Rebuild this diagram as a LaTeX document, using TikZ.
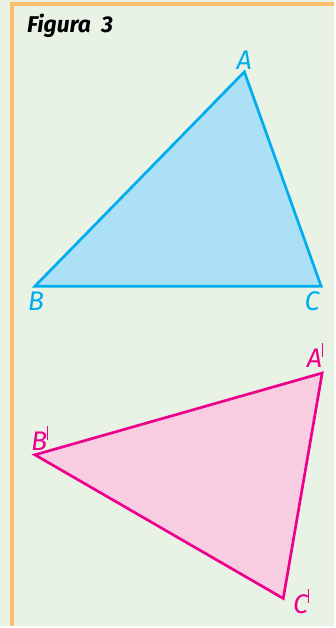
\documentclass[tikz,border=0pt]{standalone}
\usepackage{fontspec}
\setmainfont{Fira Sans}
\usepackage{xcolor}
\usetikzlibrary{positioning}

\definecolor{bgreen}{RGB}{232,243,230}
\definecolor{frameor}{RGB}{253,191,111}
\definecolor{cyanln}{RGB}{0,174,239}
\definecolor{cyanfl}{RGB}{171,224,247}
\definecolor{pinkln}{RGB}{236,0,140}
\definecolor{pinkfl}{RGB}{248,204,225}

\newcommand{\pr}{\textsuperscript{\upshape\rule{0.7pt}{1.4ex}}}

\begin{document}
\begin{tikzpicture}[x=0.03cm, y=-0.03cm,
  every node/.style={font=\fontsize{23}{26}\selectfont\itshape, inner sep=0pt},
  vtx/.style={text=#1},
  tri/.style={line width=2.3pt, line join=miter}]

  % background and frame
  \fill[bgreen] (0,0) rectangle (335,628);
  \draw[frameor, line width=2.8pt] (12,628) -- (12,4) -- (335,4);

  \node[anchor=west, font=\fontsize{19.5}{22}\selectfont\bfseries\itshape] (title) at (27,26) {Figura\ \ 3};

  % first triangle
  \coordinate (A) at (245,72);
  \coordinate (B) at (35,287);
  \coordinate (C) at (322,287);
  \draw[tri, draw=cyanln, fill=cyanfl] (A) -- (B) -- (C) -- cycle;
  \node[vtx=cyanln] (lA) at (245,60) {A};
  \node[vtx=cyanln] (lB) at (36,302) {B};
  \node[vtx=cyanln] (lC) at (313,302) {C};

  % second triangle
  \coordinate (A1) at (323,374);
  \coordinate (B1) at (35,456);
  \coordinate (C1) at (284,600);
  \draw[tri, draw=pinkln, fill=pinkfl] (A1) -- (B1) -- (C1) -- cycle;
  \node[vtx=pinkln] (lA1) at (316,356) {A\pr};
  \node[vtx=pinkln] (lB1) at (40,439) {B\pr};
  \node[vtx=pinkln] (lC1) at (302,603) {C\pr};
\end{tikzpicture}
\end{document}
